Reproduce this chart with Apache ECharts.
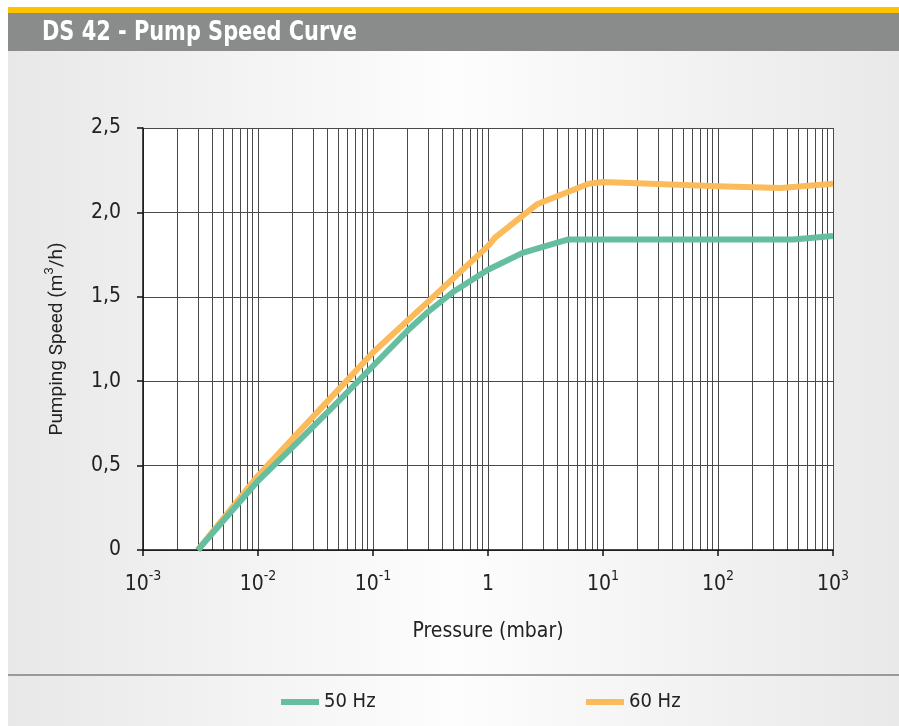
<!DOCTYPE html>
<html>
<head>
<meta charset="utf-8">
<script src="https://cdn.jsdelivr.net/npm/echarts@6/dist/echarts.min.js"></script>
<style>
html, body { margin: 0; padding: 0; background: #fff; }
#chart { width: 899px; height: 726px; }
</style>
</head>
<body>
<div id="chart"></div>
<script>
// values
var pressure50 = [0.003, 0.01, 0.02, 0.05, 0.1, 0.2, 0.3, 0.5, 1, 2, 5, 10, 100, 450, 1000];
var speed50 = [0, 0.41, 0.61, 0.88, 1.09, 1.30, 1.41, 1.53, 1.66, 1.76, 1.84, 1.84, 1.84, 1.84, 1.86];
var pressure60 = [0.003, 0.01, 0.02, 0.05, 0.1, 0.2, 0.3, 0.5, 1, 1.15, 2.7, 7.5, 10, 100, 350, 1000];
var speed60 = [0, 0.44, 0.66, 0.95, 1.17, 1.36, 1.47, 1.61, 1.80, 1.85, 2.05, 2.17, 2.18, 2.155, 2.145, 2.17];
var yTicks = [0, 0.5, 1.0, 1.5, 2.0, 2.5];
var seriesNames = ['50 Hz', '60 Hz'];

var narrow = "'Liberation Sans Narrow', 'DejaVu Sans Condensed', sans-serif";

function pairs (xs, ys) {
    var out = [];
    for (var i = 0; i < xs.length; i++) out.push([xs[i], ys[i]]);
    return out;
}

var myChart = echarts.init(document.getElementById('chart'));

var option = {
    animation: false,
    graphic: [
        {
            type: 'rect', z: -10, silent: true,
            shape: { x: 8, y: 51, width: 891, height: 675 },
            style: {
                fill: new echarts.graphic.LinearGradient(0, 0, 1, 0, [
                    { offset: 0, color: '#e8e8e8' },
                    { offset: 0.5, color: '#fdfdfd' },
                    { offset: 1, color: '#e9e9e9' }
                ])
            }
        },
        { type: 'rect', z: -5, silent: true, shape: { x: 8, y: 7, width: 891, height: 7 }, style: { fill: '#fdc300' } },
        { type: 'rect', z: -5, silent: true, shape: { x: 8, y: 13, width: 891, height: 38 }, style: { fill: '#8a8c8b' } },
        {
            type: 'text', z: 5, x: 42, y: 33, scaleX: 0.86,
            style: { text: 'DS 42 - Pump Speed Curve', fill: '#fff', font: 'bold 27px ' + narrow, verticalAlign: 'middle' }
        },
        { type: 'line', z: -4, silent: true, shape: { x1: 8, y1: 675, x2: 899, y2: 675 }, style: { stroke: '#9a9a9a', lineWidth: 2 } }
    ],
    legend: [
        {
            data: [seriesNames[0]], left: 276, top: 687,
            icon: 'rect', itemWidth: 38, itemHeight: 6, itemGap: 8,
            textStyle: { fontFamily: narrow, fontSize: 20, color: '#222' }
        },
        {
            data: [seriesNames[1]], left: 581, top: 687,
            icon: 'rect', itemWidth: 38, itemHeight: 6, itemGap: 8,
            textStyle: { fontFamily: narrow, fontSize: 20, color: '#222' }
        }
    ],
    grid: {
        left: 143, right: 66, top: 128, bottom: 176,
        show: true, backgroundColor: '#ffffff', borderWidth: 0
    },
    xAxis: {
        type: 'log', logBase: 10, min: 0.001, max: 1000, interval: 1, splitNumber: 6,
        name: '{t|Pressure (mbar)}', nameLocation: 'middle', nameGap: 71,
        nameTextStyle: { rich: { t: { fontFamily: narrow, fontSize: 21, color: '#222' } } },
        axisLine: { lineStyle: { color: '#111', width: 1.5 } },
        axisTick: { show: true, length: 6, lineStyle: { color: '#111', width: 1.5 } },
        splitLine: { show: true, lineStyle: { color: '#4a4a4a', width: 1 } },
        minorTick: { show: false, splitNumber: 9 },
        minorSplitLine: { show: true, lineStyle: { color: '#4a4a4a', width: 1 } },
        axisLabel: {
            margin: 19,
            formatter: function (v) {
                var e = Math.round(Math.log(v) / Math.LN10);
                if (e === 0) return '{b|1}';
                return '{b|10}{s|' + e + '}';
            },
            rich: {
                b: { fontFamily: narrow, fontSize: 21, color: '#222', lineHeight: 26, verticalAlign: 'bottom' },
                s: { fontFamily: narrow, fontSize: 14, color: '#222', lineHeight: 14, verticalAlign: 'top' }
            }
        }
    },
    yAxis: {
        type: 'value', min: yTicks[0], max: yTicks[yTicks.length - 1], interval: 0.5,
        name: '{n|Pumping Speed (m}{s|3}{n|/h)}', nameLocation: 'middle', nameGap: 76, nameRotate: 90,
        nameTextStyle: {
            rich: {
                n: { fontFamily: 'Roboto, sans-serif', fontSize: 19, color: '#222', lineHeight: 24, verticalAlign: 'bottom' },
                s: { fontFamily: 'Roboto, sans-serif', fontSize: 13, color: '#222', lineHeight: 13, verticalAlign: 'top' }
            }
        },
        axisLine: { show: true, lineStyle: { color: '#111', width: 1.5 } },
        axisTick: { show: true, length: 6, lineStyle: { color: '#111', width: 1.5 } },
        splitLine: { show: true, lineStyle: { color: '#4a4a4a', width: 1 } },
        axisLabel: {
            margin: 22, fontFamily: narrow, fontSize: 21, color: '#222',
            formatter: function (v) {
                return v === 0 ? '0' : v.toFixed(1).replace('.', ',');
            }
        }
    },
    series: [
        {
            name: seriesNames[1], type: 'line', z: 3, showSymbol: false, symbol: 'none',
            data: pairs(pressure60, speed60),
            itemStyle: { color: '#fcbb5a' },
            lineStyle: { color: '#fcbb5a', width: 6, join: 'round' }
        },
        {
            name: seriesNames[0], type: 'line', z: 4, showSymbol: false, symbol: 'none',
            data: pairs(pressure50, speed50),
            itemStyle: { color: '#66bea0' },
            lineStyle: { color: '#66bea0', width: 6, join: 'round' }
        }
    ]
};

myChart.setOption(option);
</script>
</body>
</html>
